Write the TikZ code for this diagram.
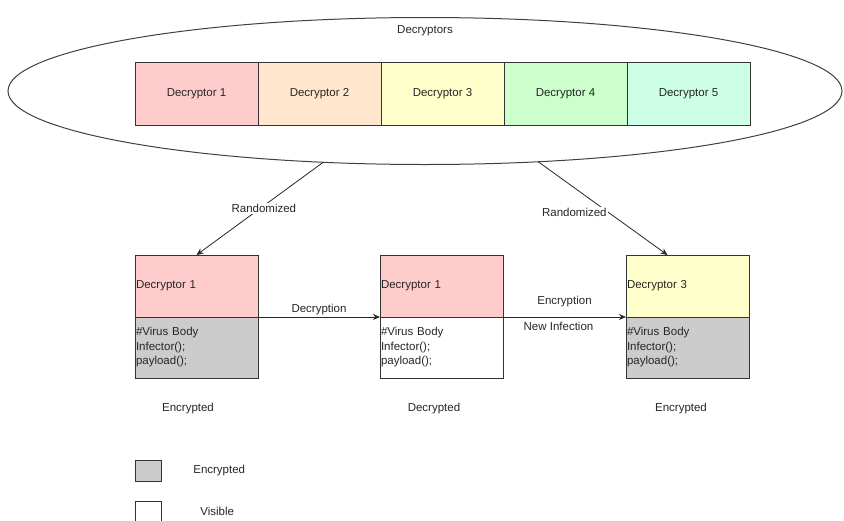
\documentclass[tikz,border=0pt]{standalone}
\usepackage{fontspec}
\setmainfont{Liberation Sans}
\usetikzlibrary{positioning,shapes.geometric,arrows.meta}

\definecolor{cRed}{HTML}{FFCCCC}
\definecolor{cOrange}{HTML}{FFE6CC}
\definecolor{cYellow}{HTML}{FFFFCC}
\definecolor{cGreen}{HTML}{CCFFCC}
\definecolor{cMint}{HTML}{CCFFE6}
\definecolor{cGray}{HTML}{CCCCCC}

\begin{document}
\begin{tikzpicture}[
    x=1pt, y=-1pt,
    every node/.style={font=\fontsize{11.5}{14}\selectfont, text=black!85},
    dbox/.style={draw=black!80, line width=0.8pt, minimum width=123pt, minimum height=63pt, inner sep=0pt, outer sep=0pt},
    head/.style={draw=black!80, line width=0.8pt, minimum width=123pt, minimum height=62pt, inner sep=1pt, outer sep=0pt, text width=121pt, align=left},
    body/.style={draw=black!80, line width=0.8pt, minimum width=123pt, minimum height=61pt, inner sep=1pt, outer sep=0pt, text width=121pt, align=left, font=\fontsize{11.5}{14.5}\selectfont},
    legend/.style={draw=black!80, line width=0.8pt, minimum width=26pt, minimum height=21pt, inner sep=0pt},
    arrow/.style={draw=black!85, line width=0.8pt, -{Stealth[length=7pt,width=6pt]}}
]
\useasboundingbox (0,0) rectangle (844,520);

% ellipse with the decryptors
\node[ellipse, draw=black!75, line width=1pt, minimum width=834pt, minimum height=147pt, inner sep=0pt, outer sep=0pt] (pool) at (425,91) {};
\node (pooltitle) at (425,31) {Decryptors};

\node[dbox, fill=cRed, anchor=north west] (d1) at (135,62) {Decryptor 1};
\node[dbox, fill=cOrange, right=0pt of d1] (d2) {Decryptor 2};
\node[dbox, fill=cYellow, right=0pt of d2] (d3) {Decryptor 3};
\node[dbox, fill=cGreen, right=0pt of d3] (d4) {Decryptor 4};
\node[dbox, fill=cMint, right=0pt of d4] (d5) {Decryptor 5};

% three virus copies
\node[head, fill=cRed, anchor=north west] (headA) at (135,255) {Decryptor 1};
\node[body, fill=cGray, below=0pt of headA] (bodyA) {\#Virus Body\\Infector();\\payload();\\[8pt]};
\node[head, fill=cRed, anchor=north west] (headB) at (380,255) {Decryptor 1};
\node[body, fill=white, below=0pt of headB] (bodyB) {\#Virus Body\\Infector();\\payload();\\[8pt]};
\node[head, fill=cYellow, anchor=north west] (headC) at (626,255) {Decryptor 3};
\node[body, fill=cGray, below=0pt of headC] (bodyC) {\#Virus Body\\Infector();\\payload();\\[8pt]};

\node (stateA) at (188,409) {Encrypted};
\node (stateB) at (434,409) {Decrypted};
\node (stateC) at (681,409) {Encrypted};

% arrows
\draw[arrow] (pool.215) -- (headA.north) node[midway, fill=white, inner sep=1pt, xshift=4pt] {Randomized};
\draw[arrow] (pool.328) -- ([xshift=-20pt]headC.north) node[pos=0.54, anchor=east, fill=white, inner sep=1pt] {Randomized};
\draw[arrow] (bodyA.north east) -- (bodyB.north west) node[midway, above=-2pt] {Decryption};
\draw[arrow] (bodyB.north east) -- (bodyC.north west) node[midway, above=6pt] {Encryption} node[midway, below=1pt, xshift=-6pt] {New Infection};

% legend
\node[legend, fill=cGray, anchor=north west] (keyEnc) at (135,460) {};
\node[legend, fill=white, anchor=north west] (keyVis) at (135,501) {};
\node[right=28pt of keyEnc] (keyEncText) {Encrypted};
\node[right=35pt of keyVis, yshift=1pt] (keyVisText) {Visible};

\end{tikzpicture}
\end{document}
